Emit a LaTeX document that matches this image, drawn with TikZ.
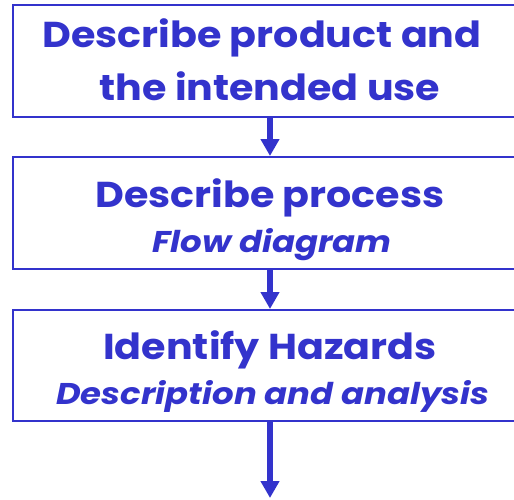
\documentclass[tikz,border=0pt]{standalone}
\usepackage{fontspec}
\newfontfamily\headfont{Poppins}[FakeStretch=1.1]
\newfontfamily\subfont{Poppins}[FakeStretch=1.13]
\usetikzlibrary{arrows.meta}
\definecolor{stepblue}{RGB}{51,51,204}
\tikzset{
  stepbox/.style={draw=stepblue, line width=2pt, minimum width=514pt, inner sep=0pt},
  headtext/.style={anchor=base, text=stepblue, inner sep=0pt, font=\headfont\fontsize{36}{36}\selectfont\bfseries},
  subtext/.style={anchor=base, text=stepblue, inner sep=0pt, font=\subfont\fontsize{30}{30}\selectfont\bfseries\itshape},
  flow/.style={draw=stepblue, line width=6pt, -{Triangle[width=18pt,length=17pt]}}
}
\begin{document}
\begin{tikzpicture}[x=1pt,y=-1pt]
\useasboundingbox (0,0) rectangle (514,499);
\clip (0,0) rectangle (514,499);
% the three steps
\node[stepbox, minimum height=112pt] (b1) at (270,61) {};
\node[stepbox, minimum height=112pt] (b2) at (270,213) {};
\node[stepbox, minimum height=111pt] (b3) at (270,365.5) {};
% step texts
\node[headtext] (t1a) at (262,47) {Describe product and};
\node[headtext] (t1b) at (270,100) {the intended use};
\node[headtext] (t2a) at (270,207) {Describe process};
\node[subtext] (t2b) at (272,252) {Flow diagram};
\node[headtext] (t3a) at (270,359) {Identify Hazards};
\node[subtext] (t3b) at (273,404) {Description and analysis};
% connectors
\coordinate (end) at (270,498);
\draw[flow] (b1.south) -- (b2.north);
\draw[flow] (b2.south) -- (b3.north);
\draw[flow] (b3.south) -- (end);
\end{tikzpicture}
\end{document}
